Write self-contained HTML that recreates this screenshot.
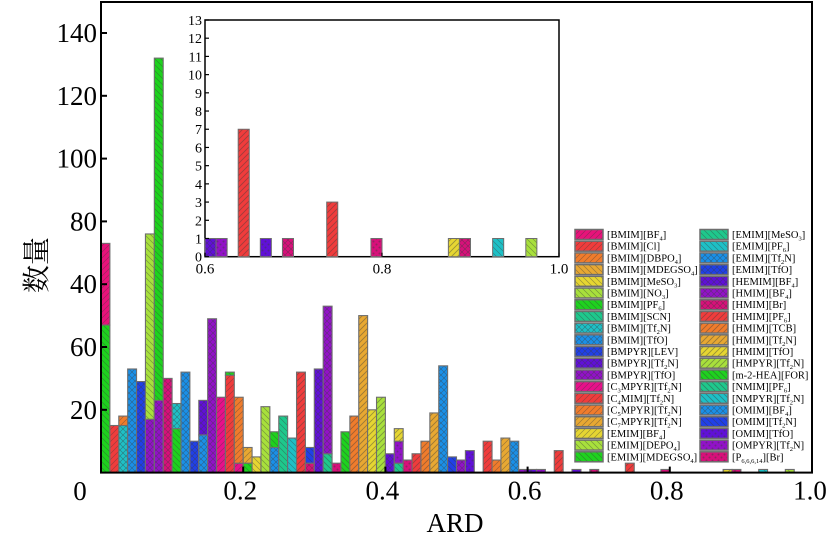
<!DOCTYPE html>
<html><head><meta charset="utf-8">
<style>
html,body{margin:0;padding:0;background:#fff;}
svg{display:block;}
text{font-family:"Liberation Serif","Noto Serif CJK SC",serif;fill:#000;}
</style></head>
<body>
<svg id="chart" width="829" height="544" viewBox="0 0 829 544" xmlns="http://www.w3.org/2000/svg">
<defs id="defs"></defs>
<g id="main-bars"></g>
<g id="main-axes"></g>
<g transform="translate(46,265)"><g transform="rotate(-90)"><text x="0" y="0" text-anchor="middle" font-size="28" style="writing-mode:horizontal-tb">数量</text></g></g>
<g id="inset"></g>
<g id="legend"></g>
</svg>
<script>
// ---- data ----
const seriesNames = ["[BMIM][BF_{4}]","[BMIM][Cl]","[BMIM][DBPO_{4}]","[BMIM][MDEGSO_{4}]","[BMIM][MeSO_{3}]","[BMIM][NO_{3}]","[BMIM][PF_{6}]","[BMIM][SCN]","[BMIM][Tf_{2}N]","[BMIM][TfO]","[BMPYR][LEV]","[BMPYR][Tf_{2}N]","[BMPYR][TfO]","[C_{3}MPYR][Tf_{2}N]","[C_{4}MIM][Tf_{2}N]","[C_{5}MPYR][Tf_{2}N]","[C_{7}MPYR][Tf_{2}N]","[EMIM][BF_{4}]","[EMIM][DEPO_{4}]","[EMIM][MDEGSO_{4}]",
"[EMIM][MeSO_{3}]","[EMIM][PF_{6}]","[EMIM][Tf_{2}N]","[EMIM][TfO]","[HEMIM][BF_{4}]","[HMIM][BF_{4}]","[HMIM][Br]","[HMIM][PF_{6}]","[HMIM][TCB]","[HMIM][Tf_{2}N]","[HMIM][TfO]","[HMPYR][Tf_{2}N]","[m-2-HEA][FOR]","[NMIM][PF_{6}]","[NMPYR][Tf_{2}N]","[OMIM][BF_{4}]","[OMIM][Tf_{2}N]","[OMIM][TfO]","[OMPYR][Tf_{2}N]","[P_{6,6,6,14}][Br]"];
const seriesColors = ["#e8127a","#f03c3c","#f07c2c","#e8a832","#e6d632","#a8e03c","#1ed21e","#1ec88c","#1ec0c6","#1a90e8","#2040e8","#6010d8","#9212c8","#e8108a","#f03c3c","#f07c2c","#e8a832","#e6d632","#a8e03c","#1ed21e",
"#1ec88c","#1ec0c6","#1a90e8","#2040e8","#6010d8","#9212c8","#d8107a","#f03c3c","#f07c2c","#e8a832","#e6d632","#a8e03c","#1ed21e","#1ec88c","#1ec0c6","#1a90e8","#2040e8","#6010d8","#9212c8","#d8107a"];
const seriesHatch = ["/","/","/","\\","\\","\\","\\","\\","x","x","x","x","x","/","/","/","/","/","\\","\\",
"\\","\\","x","x","x","x","x","//","//","//","//","//","\\\\","\\\\","\\\\","x","\\\\","o","o","o"];
// histogram: bin index (width 0.0125 ARD), series index, count (stacked in listed order)
const binIdx   = [0,0,1,2,2,3,4,5,5,6,6,7,8,8,9,10,11,11,12,13,14,14,15,15,16,16,17,18,19,19,20,21,22,23,23,24,25,25,26,27,28,29,30,31,32,33,33,33,34,35,36,37,38,39,40,41,43,44,45,46,47,48,49,51,53,55,59,63,70,71,74,77];
const seriesIdx= [6,0,1,8,2,9,10,12,5,25,6,26,19,8,22,23,9,11,25,13,14,6,13,15,19,16,4,18,35,19,20,21,27,26,36,11,33,25,39,32,28,29,30,31,24,7,38,30,39,27,28,29,35,36,25,37,14,2,16,22,12,11,38,27,37,26,27,39,30,26,21,18];
const counts   = [47,26,15,15,3,33,29,17,59,23,109,30,14,8,32,10,12,11,49,24,31,1,3,21,3,5,5,21,8,5,18,11,32,3,5,33,6,47,3,13,18,50,20,24,6,3,7,4,4,6,10,19,34,5,4,7,10,4,11,10,1,1,1,7,1,1,3,1,1,1,1,1];
const yTickVals = [140,120,100,80,60,40,20];
const yTickLabels = ["140","120","100","80","40","60","20"];
const xTickVals = [0.2,0.4,0.6,0.8,1.0];
const xTickLabels = ["0.2","0.4","0.6","0.8","1.0"];
const insetYTicks = [0,1,2,3,4,5,6,7,8,9,10,11,12,13];
const insetXTicks = [0.6,0.8,1.0];
const insetXLabels = ["0.6","0.8","1.0"];
const BIN = 0.0125;

// ---- helpers ----
const NS="http://www.w3.org/2000/svg";
function mk(tag, attrs, parent){const e=document.createElementNS(NS,tag);for(const k in attrs)e.setAttribute(k,attrs[k]);if(parent)parent.appendChild(e);return e;}
const defs=document.getElementById('defs');
seriesColors.forEach((c,i)=>{
  const p=mk('pattern',{id:'pat'+i,patternUnits:'userSpaceOnUse',width:6,height:6},defs);
  mk('rect',{width:6,height:6,fill:c},p);
  const h=seriesHatch[i], st='rgba(60,60,60,0.45)';
  if(h==='o'){mk('circle',{cx:1.5,cy:1.5,r:1,fill:st},p);mk('circle',{cx:4.5,cy:4.5,r:1,fill:st},p);}
  else{
    const sw=h.length===2?0.9:0.7;
    if(h[0]==='/'||h==='x'){mk('path',{d:'M0,6 L6,0 M-1,1 L1,-1 M5,7 L7,5',stroke:st,'stroke-width':sw},p);}
    if(h[0]==='\\'||h==='x'){mk('path',{d:'M0,0 L6,6 M-1,5 L1,7 M5,-1 L7,1',stroke:st,'stroke-width':sw},p);}
  }
});

// ---- main axes ----
const X0=101,X1=812,Y0=472.6,YPX=3.14;
const xs=v=>X0+v*(X1-X0);
const ys=v=>Y0-v*YPX;
const mb=document.getElementById('main-bars');
const stack={};
for(let i=0;i<binIdx.length;i++){
  const b=binIdx[i],base=stack[b]||0,v=counts[i];
  const r=mk('rect',{x:xs(b*BIN),y:ys(base+v),width:xs(BIN)-X0,height:v*YPX,fill:'url(#pat'+seriesIdx[i]+')',stroke:'#6e6e6e','stroke-width':1.1},mb);
  
  
  stack[b]=base+v;
}
const ax=document.getElementById('main-axes');
const frame=mk('rect',{x:X0,y:2,width:X1-X0,height:Y0-2,fill:'none',stroke:'#000','stroke-width':2},ax);

yTickVals.forEach((v,i)=>{
  mk('line',{x1:X0,x2:X0+6,y1:ys(v),y2:ys(v),stroke:'#000','stroke-width':2},ax);
  const t=mk('text',{x:X0-4,y:ys(v)+9,'text-anchor':'end','font-size':27},ax);t.textContent=yTickLabels[i];
  
});
xTickVals.forEach((v,i)=>{
  mk('line',{x1:xs(v),x2:xs(v),y1:Y0,y2:Y0-6,stroke:'#000','stroke-width':2},ax);
  const t=mk('text',{x:xs(v)-(i===4?2:3),y:Y0+27,'text-anchor':'middle','font-size':27},ax);t.textContent=xTickLabels[i];
  
});
const z=mk('text',{x:80,y:500,'text-anchor':'middle','font-size':27},ax);z.textContent='0';

const xt=mk('text',{x:455,y:532,'text-anchor':'middle','font-size':27},ax);xt.textContent='ARD';


// ---- inset ----
const IX0=205,IX1=559,IY0=256.7,IYT=20,IPX=(IY0-IYT)/13;
const ixs=v=>IX0+(v-0.6)/0.4*(IX1-IX0);
const iys=v=>IY0-v*IPX;
const ins=document.getElementById('inset');
mk('rect',{x:IX0,y:IYT,width:IX1-IX0,height:IY0-IYT,fill:'#fff',stroke:'#000','stroke-width':1.5},ins);
const istack={};
for(let i=0;i<binIdx.length;i++){
  const b=binIdx[i]; if(b*BIN<0.6-1e-9) continue;
  const base=istack[b]||0,v=counts[i];
  const r=mk('rect',{x:ixs(b*BIN),y:iys(base+v),width:ixs(0.6+BIN)-IX0,height:v*IPX,fill:'url(#pat'+seriesIdx[i]+')',stroke:'#6e6e6e','stroke-width':1},ins);
  
  
  istack[b]=base+v;
}
insetYTicks.forEach(v=>{
  mk('line',{x1:IX0,x2:IX0+4,y1:iys(v),y2:iys(v),stroke:'#000','stroke-width':1.2},ins);
  const t=mk('text',{x:IX0-3,y:iys(v)+5,'text-anchor':'end','font-size':14},ins);t.textContent=String(v);
  
});
insetXTicks.forEach((v,i)=>{
  mk('line',{x1:ixs(v),x2:ixs(v),y1:IY0,y2:IY0-4,stroke:'#000','stroke-width':1.2},ins);
  const t=mk('text',{x:ixs(v),y:IY0+17,'text-anchor':'middle','font-size':15},ins);t.textContent=insetXLabels[i];
  
});

// ---- legend ----
const lg=document.getElementById('legend');
seriesNames.forEach((nm,i)=>{
  const col=Math.floor(i/20),row=i%20;
  const px=575+col*125, cy=234.5+row*11.7;
  const g=mk('g',{},lg);
  
  
  mk('rect',{x:px,y:cy-5,width:28,height:10,fill:'url(#pat'+i+')',stroke:'#6e6e6e','stroke-width':1.5},g);
  const t=mk('text',{x:px+32,y:cy+3.5,'font-size':10.5},g);
  const parts=nm.split(/(_\{[^}]*\})/);
  parts.forEach(p=>{
    if(!p)return;
    const s=mk('tspan',{},t);
    if(p.startsWith('_{')){s.textContent=p.slice(2,-1);s.setAttribute('font-size','6.5');s.setAttribute('dy','2.5');}
    else{s.textContent=p;if(t.childNodes.length>1&&t.childNodes[t.childNodes.length-2].getAttribute('dy')==='2.5')s.setAttribute('dy','-2.5');}
  });
});
</script>
</body></html>
